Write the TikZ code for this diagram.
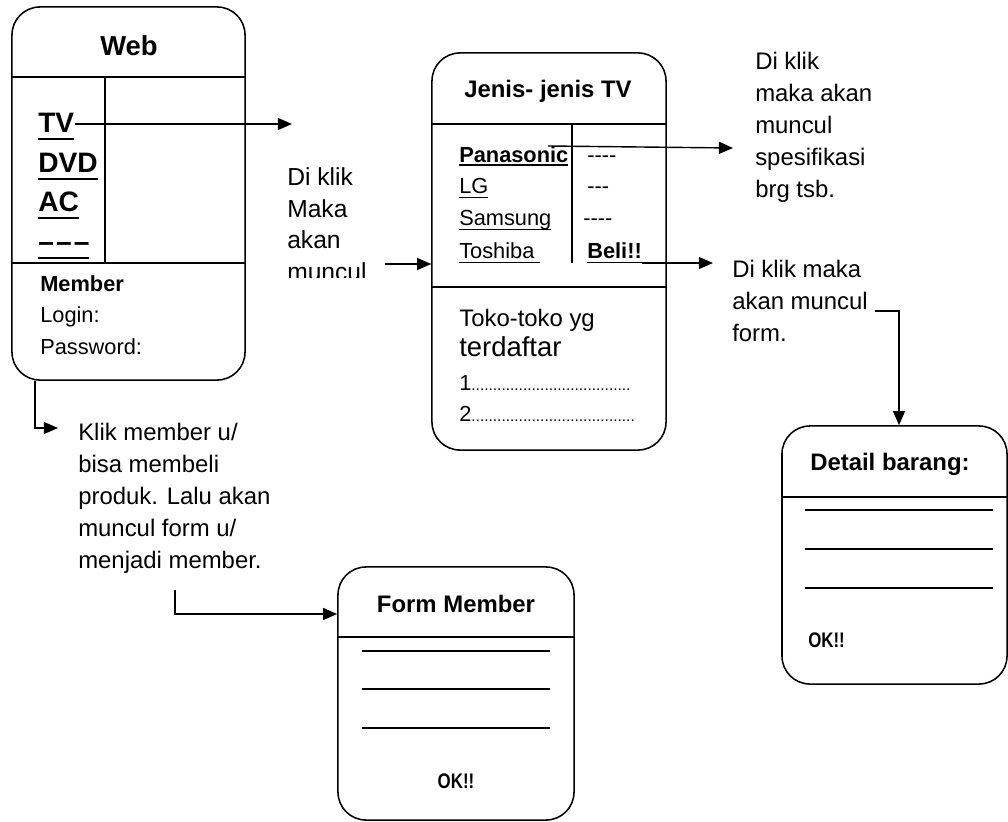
\documentclass[tikz,border=0pt]{standalone}
\usepackage{fontspec}
\setmainfont{Liberation Sans}
\usetikzlibrary{arrows.meta,positioning}
\newcommand\hy{\mbox{-}}
\newsavebox\ulbox
\newcommand\ulx[3]{\sbox\ulbox{#3}\rlap{\vrule height -#1 depth #2 width \wd\ulbox}\usebox\ulbox}

\tikzset{
  win/.style={draw, line width=1.1pt, rounded corners=0.7cm, inner sep=0pt},
  txt/.style={inner sep=0pt, anchor=base west, font=\fontsize{15.5}{22.7}\selectfont},
  ann/.style={inner sep=0pt, anchor=north west, align=left, font=\fontsize{17}{22.7}\selectfont},
  hd/.style={inner sep=0pt, anchor=base, font=\bfseries\fontsize{17}{20}\selectfont},
  big/.style={txt, font=\bfseries\fontsize{20}{24}\selectfont},
  lnk/.style={line width=1pt, -{Triangle[length=10pt,width=8.5pt]}},
  fld/.style={line width=1.4pt},
}

\begin{document}
\begin{tikzpicture}[x=0.025cm, y=-0.025cm]
    \useasboundingbox (0,0) rectangle (1008,822);

    \node[win, minimum width=5.825cm, minimum height=9.325cm] (web) at (128.5,193.5) {};
    \node[win, minimum width=5.85cm, minimum height=9.925cm] (jenis) at (549,251.5) {};
    \node[win, minimum width=5.625cm, minimum height=6.45cm] (detail) at (894.5,555) {};
    \node[win, minimum width=5.9cm, minimum height=6.325cm] (form) at (456,693.5) {};

    \draw[line width=1.1pt] (web.west |- 0,77) -- (web.east |- 0,77);
    \draw[line width=1.1pt] (web.west |- 0,263) -- (web.east |- 0,263);
    \draw[line width=1.1pt] (105,77) -- (105,263);
    \draw[line width=1.1pt] (jenis.west |- 0,124) -- (jenis.east |- 0,124);
    \draw[line width=1.1pt] (jenis.west |- 0,287) -- (jenis.east |- 0,287);
    \draw[line width=1.1pt] (572,124) -- (572,263);
    \draw[line width=1.1pt] (detail.west |- 0,497) -- (detail.east |- 0,497);
    \draw[line width=1.1pt] (form.west |- 0,637) -- (form.east |- 0,637);
    \foreach \y in {651,689,728}
        \draw[fld] (362,\y) -- (550,\y);
    \foreach \y in {510,549,588}
        \draw[fld] (805,\y) -- (993,\y);

    \node[hd, font=\bfseries\fontsize{19.5}{22}\selectfont] (wt) at (129,55) {Web};
    \node[big] (tv) at (38,132) {\ulx{4.4pt}{5.8pt}{TV}};
    \node[big] (dvd) at (38,172) {\ulx{4.4pt}{5.8pt}{DVD}};
    \node[big] (ac) at (38,211) {\ulx{4.4pt}{5.8pt}{AC}};
    \node[big] (more) at (38,251)
        {\ulx{4.4pt}{5.8pt}{\textendash\kern1.5pt\textendash\kern1.5pt\textendash}};
    \node[ann, font=\fontsize{15.5}{22.7}\selectfont] (mem) at (40,275) {\textbf{Member}\\Login:\\Password:};

    \node[hd] (jt) at (548,97) {Jenis- jenis TV};
    \node[txt] (pana) at (459,162) {\textbf{\ulx{1.6pt}{2.6pt}{Panasonic}}};
    \node[txt] (lg) at (459,193) {\ulx{2.8pt}{3.8pt}{LG}};
    \node[txt] (sam) at (459,225) {\ulx{2.8pt}{3.8pt}{Samsung}};
    \node[txt] (tosh) at (459,258) {\ulx{2.8pt}{3.8pt}{Toshiba\ }};
    \node[txt] (d1) at (587,162) {\hy\hy\hy\hy};
    \node[txt] (d2) at (587,193) {\hy\hy\hy};
    \node[txt] (d3) at (583,225) {\hy\hy\hy\hy};
    \node[txt] (beli) at (587,258) {\textbf{\ulx{2.8pt}{3.8pt}{Beli!!}}};
    \node[txt, font=\fontsize{17}{20}\selectfont] (toko) at (459,326) {Toko-toko yg};
    \node[txt, font=\fontsize{19.5}{22}\selectfont] (terd) at (459,356) {terdaftar};
    \node[txt] (n1) at (459,390) {1{\fontsize{11}{13}\selectfont.....................................}};
    \node[txt] (n2) at (459,421) {2{\fontsize{11}{13}\selectfont......................................}};

    \node[hd] (ft) at (456,612) {Form Member};
    \node[hd, font=\fontsize{15}{18}\selectfont] (ok1) at (456,788) {\scalebox{0.8}[1]{\textbf{OK!!}}};
    \node[txt, font=\bfseries\fontsize{17}{20}\selectfont] (dt) at (810,470) {Detail barang:};
    \node[txt, font=\fontsize{15}{18}\selectfont] (ok2) at (808,647) {\scalebox{0.8}[1]{\textbf{OK!!}}};

    \begin{scope}
        \clip (280,150) rectangle (400,277);
        \node[ann, font=\fontsize{17.5}{22.7}\selectfont] (a1) at (287,167) {Di klik\\Maka\\akan\\muncul};
    \end{scope}
    \node[ann] (a2) at (755,52) {Di klik\\maka akan\\muncul\\spesifikasi\\brg tsb.};
    \node[ann] (a3) at (732,260) {Di klik maka\\akan muncul\\form.};
    \node[ann] (a4) at (78,423) {Klik member u/\\bisa membeli\\produk. Lalu akan\\muncul form u/\\menjadi member.};

    \coordinate (tvend) at (292,124);
    \coordinate (in0) at (385,264);
    \coordinate (sp0) at (548,146);
    \coordinate (sp1) at (733,148);
    \coordinate (b0) at (642,263);
    \coordinate (b1) at (713,263);
    \coordinate (f0) at (875,311);
    \coordinate (m1) at (58,428);
    \coordinate (m2) at (175,590);

    \draw[lnk] (tv.east |- tvend) -- (tvend);
    \draw[lnk] (in0) -- (in0 -| jenis.west);
    \draw[lnk] (sp0) -- (sp1);
    \draw[lnk] (b0) -- (b1);
    \draw[lnk] (f0) -| (detail.north -| 899,0);
    \draw[lnk] (web.south -| 35,0) |- (m1);
    \draw[lnk] (m2) |- (form.west |- 0,614);
\end{tikzpicture}
\end{document}
